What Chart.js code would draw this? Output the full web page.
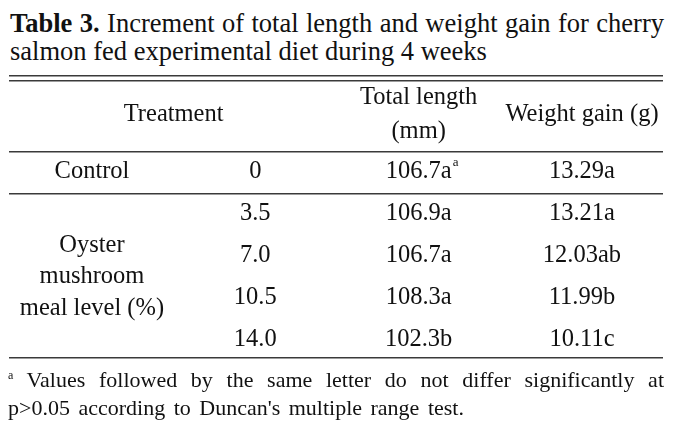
<!DOCTYPE html>
<html>
<head>
<meta charset="utf-8">
<script src="https://cdn.jsdelivr.net/npm/chart.js@4.4.1/dist/chart.umd.min.js"></script>
<style>
    body {
        margin: 0;
        width: 684px;
        height: 428px;
        background: #fff;
        color: #111;
        font-family: "Liberation Serif", "DejaVu Serif", serif;
        position: relative;
        overflow: hidden;
    }
    #title {
        position: absolute;
        left: 10px;
        top: 9px;
        width: 654px;
        font-size: 26.5px;
        line-height: 28px;
    }
    #title .line1, #note .line1 {
        display: block;
        text-align: justify;
        text-align-last: justify;
        white-space: nowrap;
    }
    #note {
        position: absolute;
        left: 8px;
        top: 366px;
        width: 656px;
        font-size: 22px;
        line-height: 28px;
    }
    #note .line2 { word-spacing: 3px; }
    #note sup { font-size: 12px; vertical-align: 8px; line-height: 0; }
    #tableWrap {
        position: absolute;
        left: 0;
        top: 60px;
        width: 684px;
        height: 312px;
    }
</style>
</head>
<body>
<div id="title"><span class="line1"><b>Table 3.</b> Increment of total length and weight gain for cherry</span>salmon fed experimental diet during 4 weeks</div>
<div id="tableWrap"><canvas id="tableChart"></canvas></div>
<div id="note"><span class="line1"><sup>a</sup> Values followed by the same letter do not differ significantly at</span><span class="line2">p&gt;0.05 according to Duncan's multiple range test.</span></div>

<script>
// Table data
const headerTexts = ['Treatment', 'Total length', '(mm)', 'Weight gain (g)'];
const controlLabel = 'Control';
const groupLines = ['Oyster', 'mushroom', 'meal level (%)'];
const mealLevels = ['0', '3.5', '7.0', '10.5', '14.0'];
const totalLength = [106.7, 106.9, 106.7, 108.3, 102.3];
const lengthLetters = ['a', 'a', 'a', 'a', 'b'];
const weightGain = [13.29, 13.21, 12.03, 11.99, 10.11];
const weightLetters = ['a', 'a', 'ab', 'b', 'c'];
const footnoteMark = 'a';

// Layout, in row units (control row = 0) and column units
const headerRow = -1.37;
const headerHalfGap = 0.40;
const ruleRows = [-2.29, -2.18, -0.48, 0.52, 4.43];
const groupLineGap = 0.74;
const textFont = '24.5px "Liberation Serif", serif';
const supFont = '13px "Liberation Serif", serif';
const textColor = '#111';
const ruleColor = '#3a3a3a';

const rows = mealLevels.map((_, i) => i);
const groupRows = rows.slice(1);
const groupCenter = (groupRows[0] + groupRows[groupRows.length - 1]) / 2;

const datasets = [
    {
        // header cells
        data: [
            { x: 0.5, y: headerRow },
            { x: 2, y: headerRow - headerHalfGap },
            { x: 2, y: headerRow + headerHalfGap },
            { x: 3, y: headerRow }
        ],
        cellText: headerTexts
    },
    {
        // treatment names
        data: [{ x: 0, y: rows[0] }].concat(groupLines.map((_, i) => ({ x: 0, y: groupCenter + (i - 1) * groupLineGap }))),
        cellText: [controlLabel].concat(groupLines)
    },
    {
        data: rows.map(r => ({ x: 1, y: r })),
        cellText: mealLevels
    },
    {
        data: rows.map(r => ({ x: 2, y: r })),
        cellText: totalLength.map((v, i) => v.toFixed(1) + lengthLetters[i]),
        supText: [footnoteMark]
    },
    {
        data: rows.map(r => ({ x: 3, y: r })),
        cellText: weightGain.map((v, i) => v.toFixed(2) + weightLetters[i])
    }
].map(ds => Object.assign(ds, { pointRadius: 0, pointHoverRadius: 0 }));

const cellTextPlugin = {
    id: 'cellText',
    afterDatasetsDraw(chart) {
        const ctx = chart.ctx;
        ctx.save();
        ctx.font = textFont;
        ctx.fillStyle = textColor;
        ctx.textAlign = 'center';
        ctx.textBaseline = 'middle';
        chart.data.datasets.forEach((ds, di) => {
            const meta = chart.getDatasetMeta(di);
            meta.data.forEach((pt, i) => {
                const txt = ds.cellText[i];
                ctx.fillText(txt, pt.x, pt.y);
                if (ds.supText && ds.supText[i]) {
                    const w = ctx.measureText(txt).width;
                    ctx.save();
                    ctx.font = supFont;
                    ctx.textAlign = 'left';
                    ctx.fillText(ds.supText[i], pt.x + w / 2 + 1, pt.y - 9);
                    ctx.restore();
                }
            });
        });
        ctx.restore();
    }
};

new Chart(document.getElementById('tableChart'), {
    type: 'scatter',
    data: { datasets: datasets },
    options: {
        responsive: true,
        maintainAspectRatio: false,
        animation: false,
        events: [],
        layout: { padding: { left: 9, right: 21, top: 0, bottom: 0 } },
        plugins: { legend: { display: false }, tooltip: { enabled: false } },
        scales: {
            x: { type: 'linear', min: -0.508, max: 3.496, display: false },
            y: {
                type: 'linear',
                reverse: true,
                min: -2.667,
                max: 4.762,
                border: { display: false },
                ticks: { display: false, padding: 0 },
                grid: { drawTicks: false, tickLength: 0, color: ruleColor, lineWidth: 1.6 },
                afterBuildTicks(axis) {
                    axis.ticks = ruleRows.map(v => ({ value: v }));
                }
            }
        }
    },
    plugins: [cellTextPlugin]
});
</script>
</body>
</html>
